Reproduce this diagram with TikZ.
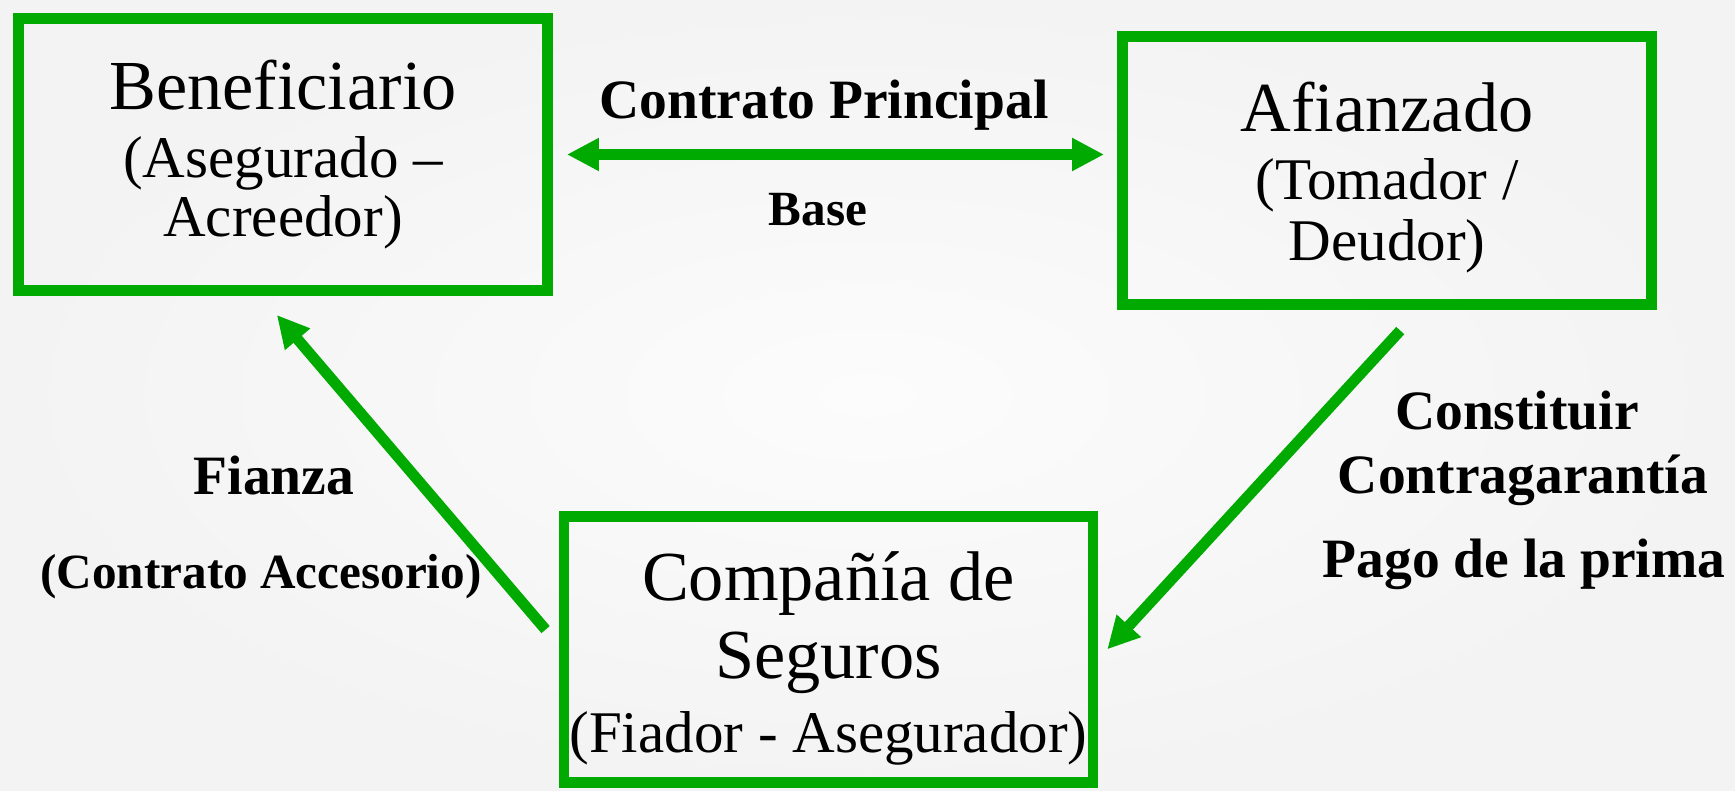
\documentclass[tikz,border=0pt]{standalone}
\usepackage{fontspec}
\setmainfont{Liberation Serif}
\usetikzlibrary{arrows.meta}
\definecolor{verde}{RGB}{0,170,0}
\definecolor{fondoin}{RGB}{252,252,252}
\definecolor{fondoout}{RGB}{243,243,243}
\newcommand{\bigtxt}{\fontsize{20}{22}\selectfont}
\newcommand{\midtxt}{\fontsize{16.8}{16.8}\selectfont}
\newcommand{\lbltxt}{\bfseries\fontsize{15.8}{18}\selectfont}
\newcommand{\smltxt}{\bfseries\fontsize{14}{16}\selectfont}
\begin{document}
\begin{tikzpicture}
\tikzstyle{box}=[rectangle, draw=verde, line width=3.1pt, minimum width=52.9mm, align=center, inner sep=0pt, font=\midtxt]
\tikzstyle{connect}=[-{Triangle[length=3.2mm, width=3.1mm]}, draw=verde, line width=3.1pt]
\tikzstyle{both}=[{Triangle[length=3.2mm, width=3.1mm]}-{Triangle[length=3.2mm, width=3.1mm]}, draw=verde, line width=3.1pt]
\tikzstyle{tag}=[anchor=base, align=center, font=\lbltxt]
    \shade[inner color=fondoin, outer color=fondoout] (0,0) rectangle (17.35,7.9);
    \useasboundingbox (0,0) rectangle (17.35,7.9);
    % the three parties
    \node[box, minimum height=27.2mm] (A) at (2.83,6.355) {{\bigtxt Beneficiario}\\[2.8pt](Asegurado --\\Acreedor)};
    \node[box, minimum height=26.8mm] (B) at (13.87,6.195) {{\bigtxt\rule{0pt}{18pt}Afianzado}\\[2.8pt](Tomador /\\[0.5pt]Deudor)};
    \node[box, minimum height=26.6mm] (C) at (8.285,1.405) {{\bigtxt\rule{0pt}{19pt}Compañía de}\\[3.7pt]{\bigtxt Seguros}\\[4.2pt](Fiador - Asegurador)};
    % labels
    \node[tag] (principal) at (8.24,6.72) {Contrato Principal};
    \node[tag, font=\smltxt] (base) at (8.18,5.65) {Base};
    \node[tag] (fianza) at (2.74,2.96) {Fianza};
    \node[tag, font=\smltxt] (accesorio) at (2.61,2.02) {(Contrato Accesorio)};
    \node[tag] (constituir) at (15.17,3.61) {Constituir};
    \node[tag] (contragarantia) at (15.23,2.97) {Contragarantía};
    \node[tag] (pago) at (15.24,2.13) {Pago de la prima};
    % relations
    \path (A.east) edge [both, shorten <=1.4mm, shorten >=1.3mm] (A.east -| B.west)
          (C.179) edge [connect, shorten <=2mm, shorten >=2.5mm] (A.261)
          (B.283) edge [connect, shorten <=2.8mm, shorten >=1.3mm] (C.358);
\end{tikzpicture}
\end{document}
